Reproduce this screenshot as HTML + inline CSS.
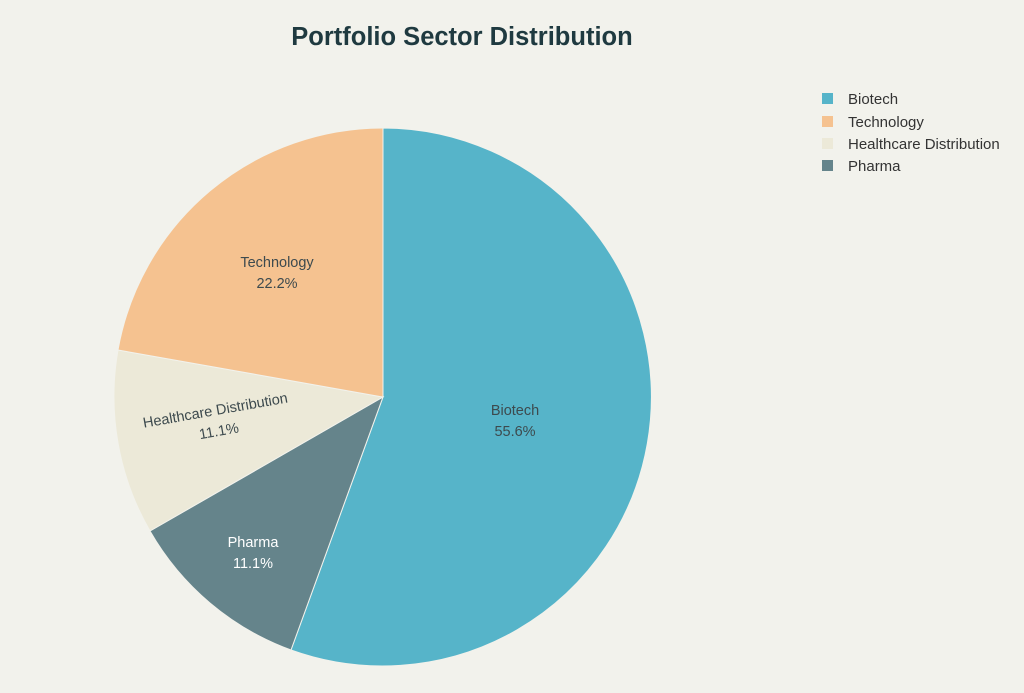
<!DOCTYPE html>
<html><head><meta charset="utf-8"><style>
html,body{margin:0;padding:0;background:#f2f2ec;}
svg{display:block;font-family:"Liberation Sans",sans-serif;}
</style></head><body>
<svg width="1024" height="693" viewBox="0 0 1024 693">
<rect width="1024" height="693" fill="#f2f2ec"/>
<text x="462" y="45" text-anchor="middle" font-size="25.5" font-weight="bold" fill="#1f3a40">Portfolio Sector Distribution</text>
<g stroke="#f2f2ec" stroke-width="1">
<path d="M383,397 L383,128 A269,269 0 1 1 291,650 Z" fill="#56b4c9"/>
<path d="M383,397 L291,650 A269,269 0 0 1 150,531 Z" fill="#65848b"/>
<path d="M383,397 L150,531 A269,269 0 0 1 118,350 Z" fill="#ece9d8"/>
<path d="M383,397 L118,350 A269,269 0 0 1 383,128 Z" fill="#f5c290"/>
</g>
<g font-size="14.5" text-anchor="middle" fill="#3d4a4e">
<text x="515" y="415">Biotech</text><text x="515" y="436">55.6%</text>
<text x="277" y="267">Technology</text><text x="277" y="288">22.2%</text>
<g transform="rotate(-10 217 420)"><text x="217" y="415">Healthcare Distribution</text><text x="217" y="436">11.1%</text></g>
<text x="253" y="547" fill="#ffffff">Pharma</text><text x="253" y="568" fill="#ffffff">11.1%</text>
</g>
<g font-size="15" fill="#333">
<rect x="822" y="93" width="11" height="11" fill="#56b4c9"/><text x="848" y="104">Biotech</text>
<rect x="822" y="116" width="11" height="11" fill="#f5c290"/><text x="848" y="127">Technology</text>
<rect x="822" y="138" width="11" height="11" fill="#ece9d8"/><text x="848" y="149">Healthcare Distribution</text>
<rect x="822" y="160" width="11" height="11" fill="#65848b"/><text x="848" y="171">Pharma</text>
</g>
</svg>
</body></html>
